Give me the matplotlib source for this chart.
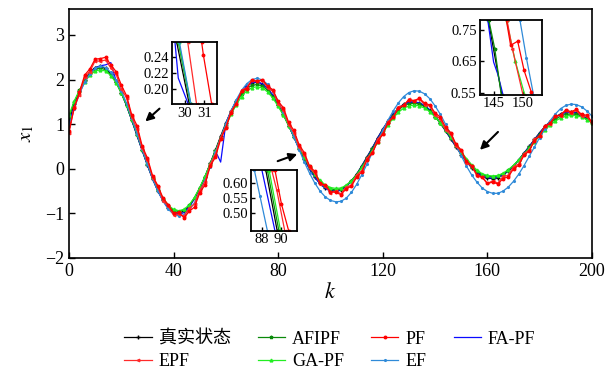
import numpy as np
import matplotlib
matplotlib.use("Agg")
import matplotlib.pyplot as plt

plt.rcParams.update({
    'font.family': ['Liberation Serif', 'Noto Sans CJK SC'],
    'mathtext.fontset': 'stix',
    'axes.unicode_minus': True,
    'xtick.direction': 'in',
    'ytick.direction': 'in',
})

# time steps
k = np.arange(0, 201, 2)

truth = [1.05, 1.45, 1.74, 1.98, 2.16, 2.27, 2.30, 2.25, 2.13, 1.95,
         1.70, 1.42, 1.09, 0.75, 0.41, 0.08, -0.23, -0.50, -0.71, -0.88,
         -0.97, -1.00, -0.95, -0.84, -0.66, -0.44, -0.18, 0.12, 0.42, 0.73,
         1.03, 1.30, 1.53, 1.72, 1.86, 1.93, 1.95, 1.90, 1.80, 1.64,
         1.44, 1.22, 0.97, 0.71, 0.45, 0.21, 0.00, -0.19, -0.33, -0.43,
         -0.49, -0.50, -0.47, -0.39, -0.27, -0.12, 0.07, 0.27, 0.47, 0.69,
         0.89, 1.07, 1.23, 1.36, 1.45, 1.49, 1.50, 1.47, 1.41, 1.31,
         1.17, 1.02, 0.85, 0.67, 0.49, 0.32, 0.16, 0.02, -0.09, -0.17,
         -0.21, -0.22, -0.20, -0.14, -0.05, 0.06, 0.20, 0.35, 0.50, 0.66,
         0.81, 0.95, 1.06, 1.16, 1.23, 1.27, 1.28, 1.26, 1.21, 1.13,
         1.04]
afipf = [1.15, 1.50, 1.76, 1.97, 2.13, 2.23, 2.26, 2.22, 2.11, 1.94,
         1.70, 1.43, 1.10, 0.77, 0.43, 0.10, -0.21, -0.47, -0.68, -0.84,
         -0.93, -0.96, -0.92, -0.82, -0.65, -0.43, -0.18, 0.11, 0.40, 0.70,
         0.99, 1.26, 1.49, 1.67, 1.80, 1.87, 1.89, 1.85, 1.76, 1.61,
         1.42, 1.21, 0.97, 0.72, 0.47, 0.23, 0.03, -0.15, -0.29, -0.39,
         -0.45, -0.47, -0.45, -0.38, -0.27, -0.13, 0.05, 0.24, 0.44, 0.65,
         0.85, 1.03, 1.19, 1.32, 1.41, 1.46, 1.47, 1.45, 1.39, 1.30,
         1.17, 1.03, 0.87, 0.70, 0.52, 0.35, 0.19, 0.05, -0.06, -0.13,
         -0.17, -0.18, -0.16, -0.11, -0.03, 0.07, 0.20, 0.34, 0.48, 0.63,
         0.78, 0.91, 1.02, 1.11, 1.18, 1.22, 1.23, 1.22, 1.18, 1.11,
         1.03]
gapf = [1.20, 1.52, 1.75, 1.95, 2.10, 2.19, 2.22, 2.19, 2.09, 1.93,
        1.70, 1.44, 1.12, 0.79, 0.45, 0.12, -0.19, -0.45, -0.66, -0.82,
        -0.91, -0.94, -0.91, -0.81, -0.64, -0.42, -0.17, 0.11, 0.39, 0.68,
        0.96, 1.22, 1.44, 1.62, 1.75, 1.82, 1.84, 1.81, 1.72, 1.58,
        1.40, 1.20, 0.97, 0.73, 0.49, 0.26, 0.06, -0.12, -0.26, -0.36,
        -0.42, -0.44, -0.43, -0.37, -0.27, -0.14, 0.03, 0.21, 0.40, 0.60,
        0.80, 0.98, 1.14, 1.27, 1.36, 1.41, 1.43, 1.41, 1.36, 1.28,
        1.16, 1.03, 0.88, 0.72, 0.55, 0.38, 0.23, 0.09, -0.03, -0.11,
        -0.15, -0.16, -0.15, -0.10, -0.02, 0.08, 0.20, 0.33, 0.46, 0.60,
        0.74, 0.87, 0.98, 1.07, 1.14, 1.18, 1.20, 1.19, 1.16, 1.10,
        1.03]
fapf = [1.00, 1.40, 1.70, 1.95, 2.14, 2.26, 2.31, 2.33, 2.38, 1.97,
        1.71, 1.42, 1.09, 0.75, 0.41, 0.08, -0.23, -0.50, -0.72, -0.89,
        -0.99, -1.03, -0.98, -0.86, -0.67, -0.45, -0.19, 0.11, 0.40, 0.15,
        1.02, 1.29, 1.52, 1.71, 1.86, 1.93, 1.95, 1.90, 1.80, 1.64,
        1.44, 1.22, 0.97, 0.71, 0.45, 0.21, 0.00, -0.19, -0.34, -0.44,
        -0.50, -0.51, -0.48, -0.40, -0.28, -0.13, 0.06, 0.26, 0.46, 0.68,
        0.88, 1.06, 1.22, 1.35, 1.44, 1.49, 1.50, 1.48, 1.42, 1.32,
        1.18, 1.03, 0.86, 0.68, 0.50, 0.33, 0.17, 0.03, -0.08, -0.16,
        -0.20, -0.21, -0.19, -0.13, -0.04, 0.07, 0.20, 0.35, 0.50, 0.65,
        0.80, 0.94, 1.05, 1.15, 1.22, 1.26, 1.27, 1.25, 1.20, 1.12,
        1.03]
ef = [0.95, 1.35, 1.68, 1.94, 2.13, 2.25, 2.30, 2.27, 2.16, 1.99,
      1.75, 1.47, 1.14, 0.79, 0.44, 0.10, -0.22, -0.50, -0.73, -0.91,
      -1.02, -1.06, -1.03, -0.93, -0.76, -0.53, -0.26, 0.05, 0.37, 0.69,
      1.01, 1.30, 1.55, 1.76, 1.91, 2.00, 2.03, 1.99, 1.89, 1.73,
      1.52, 1.28, 1.01, 0.72, 0.43, 0.15, -0.10, -0.32, -0.50, -0.63,
      -0.71, -0.74, -0.73, -0.66, -0.53, -0.35, -0.13, 0.11, 0.36, 0.62,
      0.86, 1.09, 1.30, 1.48, 1.62, 1.71, 1.75, 1.74, 1.68, 1.57,
      1.41, 1.22, 1.00, 0.77, 0.53, 0.29, 0.06, -0.14, -0.30, -0.43,
      -0.51, -0.55, -0.55, -0.50, -0.41, -0.28, -0.12, 0.07, 0.28, 0.49,
      0.70, 0.90, 1.08, 1.23, 1.35, 1.42, 1.45, 1.44, 1.39, 1.30,
      1.18]
pf = [0.85, 1.36, 1.72, 2.10, 2.24, 2.46, 2.47, 2.50, 2.33, 2.18,
      1.88, 1.64, 1.21, 0.97, 0.51, 0.24, -0.16, -0.38, -0.66, -0.81,
      -0.99, -0.98, -1.10, -0.95, -0.86, -0.54, -0.36, 0.06, 0.26, 0.66,
      0.92, 1.26, 1.46, 1.74, 1.80, 1.98, 1.96, 2.00, 1.85, 1.77,
      1.51, 1.37, 1.04, 0.86, 0.54, 0.36, 0.06, -0.06, -0.32, -0.37,
      -0.51, -0.53, -0.58, -0.45, -0.39, -0.19, -0.07, 0.20, 0.35, 0.61,
      0.77, 1.03, 1.15, 1.36, 1.42, 1.55, 1.53, 1.58, 1.47, 1.43,
      1.25, 1.16, 0.93, 0.81, 0.55, 0.42, 0.17, 0.07, -0.13, -0.19,
      -0.33, -0.30, -0.34, -0.22, -0.18, 0.00, 0.08, 0.30, 0.40, 0.63,
      0.74, 0.95, 1.02, 1.18, 1.21, 1.32, 1.28, 1.33, 1.22, 1.20,
      1.05]
epf = [0.80, 1.39, 1.66, 2.06, 2.18, 2.42, 2.41, 2.44, 2.26, 2.12,
       1.80, 1.59, 1.16, 0.90, 0.46, 0.20, -0.20, -0.41, -0.72, -0.84,
       -1.04, -1.01, -1.06, -0.88, -0.79, -0.48, -0.29, 0.10, 0.32, 0.70,
       0.94, 1.29, 1.46, 1.76, 1.82, 2.00, 1.96, 1.99, 1.81, 1.74,
       1.46, 1.31, 0.99, 0.81, 0.48, 0.31, 0.02, -0.10, -0.34, -0.38,
       -0.54, -0.50, -0.56, -0.41, -0.37, -0.14, -0.04, 0.24, 0.37, 0.66,
       0.79, 1.06, 1.16, 1.39, 1.42, 1.56, 1.51, 1.57, 1.43, 1.41,
       1.20, 1.12, 0.87, 0.77, 0.50, 0.40, 0.14, 0.06, -0.16, -0.19,
       -0.33, -0.27, -0.32, -0.17, -0.15, 0.05, 0.11, 0.34, 0.42, 0.66,
       0.74, 0.97, 1.01, 1.19, 1.19, 1.31, 1.25, 1.31, 1.18, 1.18,
       1.02]

# zoomed-in pieces shown in the three insets: (k values, x1 values)
ins1 = {
    'truth': ([29.57, 30.22], [0.259, 0.181]),
    'fapf': ([29.48, 29.65, 30.17], [0.259, 0.214, 0.181]),
    'afipf': ([29.65, 30.29], [0.259, 0.181]),
    'gapf': ([29.68, 30.30], [0.259, 0.181]),
    'ef': ([29.71, 30.31], [0.259, 0.181]),
    'epf': ([30.14, 30.60], [0.259, 0.181]),
    'pf': ([30.86, 30.95, 31.38], [0.259, 0.243, 0.181]),
}
ins2 = {
    'truth': ([88.42, 89.64], [0.641, 0.443]),
    'fapf': ([88.00, 89.40], [0.641, 0.443]),
    'afipf': ([88.59, 89.82], [0.641, 0.443]),
    'gapf': ([88.77, 90.00], [0.641, 0.443]),
    'ef': ([87.19, 87.80, 88.59], [0.641, 0.555, 0.443]),
    'epf': ([89.05, 89.60, 90.45], [0.641, 0.575, 0.443]),
    'pf': ([89.40, 90.10, 90.87], [0.641, 0.530, 0.443]),
}
ins3 = {
    'truth': ([144.10, 146.40], [0.78, 0.544]),
    'fapf': ([144.02, 145.00, 145.70, 146.60], [0.78, 0.648, 0.610, 0.544]),
    'afipf': ([144.20, 145.20, 146.30], [0.78, 0.690, 0.544]),
    'gapf': ([147.20, 148.70, 150.30], [0.78, 0.650, 0.544]),
    'ef': ([149.50, 150.60, 151.80], [0.78, 0.660, 0.544]),
    'epf': ([147.30, 148.20, 150.00], [0.78, 0.690, 0.544]),
    'pf': ([147.00, 147.90, 149.10, 150.20, 151.40, 151.60], [0.80, 0.701, 0.714, 0.621, 0.554, 0.530]),
}

styles = {
    'truth': dict(color='black', marker='+', ms=2.5, lw=0.9, label='真实状态'),
    'fapf': dict(color='#0a0aff', marker='', lw=0.9, label='FA-PF'),
    'afipf': dict(color='#0a8a0a', marker='*', ms=2.5, lw=0.9, label='AFIPF'),
    'gapf': dict(color='#22ee22', marker='^', ms=2, lw=0.9, label='GA-PF'),
    'ef': dict(color='#2f8ad8', marker='.', ms=2.5, lw=0.9, label='EF'),
    'epf': dict(color='#ff2a2a', marker='<', ms=1.8, lw=0.9, label='EPF'),
    'pf': dict(color='#ff0000', marker='o', ms=1.8, lw=0.9, label='PF'),
}
series = {'truth': truth, 'fapf': fapf, 'afipf': afipf, 'gapf': gapf,
          'ef': ef, 'epf': epf, 'pf': pf}

fig = plt.figure(figsize=(6.11, 3.72), dpi=100)
ax = fig.add_axes([0.1129, 0.3065, 0.856, 0.669])

lines = {}
for key, vals in series.items():
    lines[key], = ax.plot(k, vals, **styles[key])

ax.set_xlim(0, 200)
ax.set_ylim(-2, 3.58)
ax.set_xticks([0, 40, 80, 120, 160, 200])
ax.set_yticks([-2, -1, 0, 1, 2, 3])
ax.tick_params(labelsize=13, length=4, width=1)
for sp in ax.spines.values():
    sp.set_linewidth(1.2)
ax.set_xlabel(r'$k$', fontsize=16, labelpad=2)
ax.set_ylabel(r'$x_1$', fontsize=15, labelpad=6)

# arrows pointing to the zoomed regions
arrow = dict(arrowstyle='-|>', color='black', lw=1.5, mutation_scale=12)
ax.annotate('', xy=(28.4, 1.02), xytext=(35.4, 1.39), arrowprops=arrow)
ax.annotate('', xy=(88.3, 0.35), xytext=(78.8, 0.15), arrowprops=arrow)
ax.annotate('', xy=(156.4, 0.38), xytext=(164.8, 0.87), arrowprops=arrow)

def inset(rect, data, xlim, ylim, xt, yt, yfmt):
    a = fig.add_axes(rect)
    for key, (xs, ys) in data.items():
        st = dict(styles[key])
        st.pop('label')
        a.plot(xs, ys, **st)
    a.set_xlim(*xlim)
    a.set_ylim(*ylim)
    a.set_xticks(xt)
    a.set_yticks(yt)
    a.set_yticklabels([yfmt % v for v in yt])
    a.tick_params(labelsize=10.5, length=3, width=1, pad=2)
    for sp in a.spines.values():
        sp.set_linewidth(1.3)
    return a

inset([0.281, 0.7196, 0.0737, 0.1667], ins1, (29.31, 31.64), (0.181, 0.259),
      [30, 31], [0.20, 0.22, 0.24], '%.2f')
inset([0.4103, 0.3798, 0.0763, 0.1632], ins2, (86.8, 91.8), (0.443, 0.641),
      [88, 90], [0.50, 0.55, 0.60], '%.2f')
inset([0.7848, 0.7454, 0.1018, 0.1995], ins3, (142.6, 153.2), (0.544, 0.78),
      [145, 150], [0.55, 0.65, 0.75], '%.2f')

order = ['truth', 'epf', 'afipf', 'gapf', 'pf', 'ef', 'fapf']
fig.legend([lines[o] for o in order], [styles[o]['label'] for o in order],
           ncol=4, loc='center', bbox_to_anchor=(0.54, 0.058), frameon=False,
           fontsize=13, handlelength=1.5, handletextpad=0.4,
           columnspacing=1.5, labelspacing=0.3, borderpad=0.1)

fig.savefig('out.png', dpi=100)
